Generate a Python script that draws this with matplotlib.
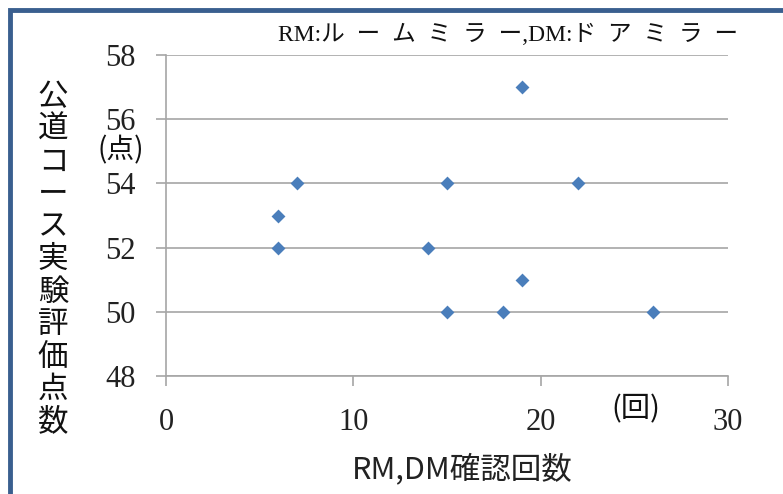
"""
RM/DM確認回数と公道コース実験評価点数の散布図
"""
import matplotlib
matplotlib.use('Agg')
import matplotlib.pyplot as plt
from matplotlib.patches import Rectangle

# 確認回数 (回) と 評価点数 (点)
check_counts = [6, 6, 7, 14, 15, 15, 18, 19, 19, 22, 26]
scores = [53, 52, 54, 52, 54, 50, 50, 57, 51, 54, 50]

x_ticks = [0, 10, 20, 30]
y_ticks = [48, 50, 52, 54, 56, 58]

ylabel_text = '公道コース実験評価点数'
xlabel_text = 'RM,DM確認回数'
note_parts = [('RM:', 'ルームミラー'), ('DM:', 'ドアミラー')]

JP_SANS = ['Noto Sans CJK JP', 'DejaVu Sans']
SERIF = ['Liberation Serif', 'Noto Sans CJK JP', 'DejaVu Serif']


def spaced(s):
    # カタカナは字間を空けて表示する
    return '\u2002'.join(s)


W, H = 783, 494
fig = plt.figure(figsize=(W / 100, H / 100), dpi=100)
ax = fig.add_axes([166 / W, 1 - 376 / H, (728 - 166) / W, (376 - 55) / H])

ax.scatter(check_counts, scores, marker='D', s=50, color='#4a7ebb',
           linewidths=0, zorder=3)

ax.set_xlim(0, 30)
ax.set_ylim(48, 58)
ax.set_xticks(x_ticks)
ax.set_yticks(y_ticks)
ax.grid(True, axis='y', color='#a6a6a6', linewidth=1.2)
ax.set_axisbelow(True)

for side in ['top', 'right']:
    ax.spines[side].set_visible(False)
for side in ['left', 'bottom']:
    ax.spines[side].set_color('#a6a6a6')
    ax.spines[side].set_linewidth(1.2)

ax.tick_params(axis='both', direction='out', length=7, width=1.2,
               color='#a6a6a6', labelsize=22, labelcolor='#222222')
ax.tick_params(axis='y', pad=15)
ax.tick_params(axis='x', pad=16)
for lbl in ax.get_xticklabels() + ax.get_yticklabels():
    lbl.set_family(SERIF)

# 縦書きの軸ラベル (1文字ずつ配置)
y0, step = 97, 32.5
for i, ch in enumerate(ylabel_text):
    fig.text(53 / W, 1 - (y0 + i * step) / H, ch, family=JP_SANS,
             fontsize=22, ha='center', va='center', color='#111111')

fig.text(121 / W, 1 - 150 / H, '(点)', family=JP_SANS, fontsize=20,
         ha='center', va='center', color='#111111')
fig.text(636 / W, 1 - 409 / H, '(回)', family=JP_SANS, fontsize=21,
         ha='center', va='center', color='#111111')
fig.text(462 / W, 1 - 469 / H, xlabel_text, family=JP_SANS, fontsize=22,
         ha='center', va='center', color='#222222')

note_text = ','.join(abbr + spaced(name) for abbr, name in note_parts)
fig.text(738 / W, 1 - 35 / H, note_text, family=SERIF, fontsize=17,
         ha='right', va='center', color='#111111')

# 外枠 (左と上の青線)
fig.patches.append(Rectangle((10 / W, -0.1), 1.2, 1 - 10 / H + 0.1,
                             transform=fig.transFigure, fill=False,
                             edgecolor='#3a5f8f', linewidth=3.5))

fig.savefig('out.png', dpi=100)
